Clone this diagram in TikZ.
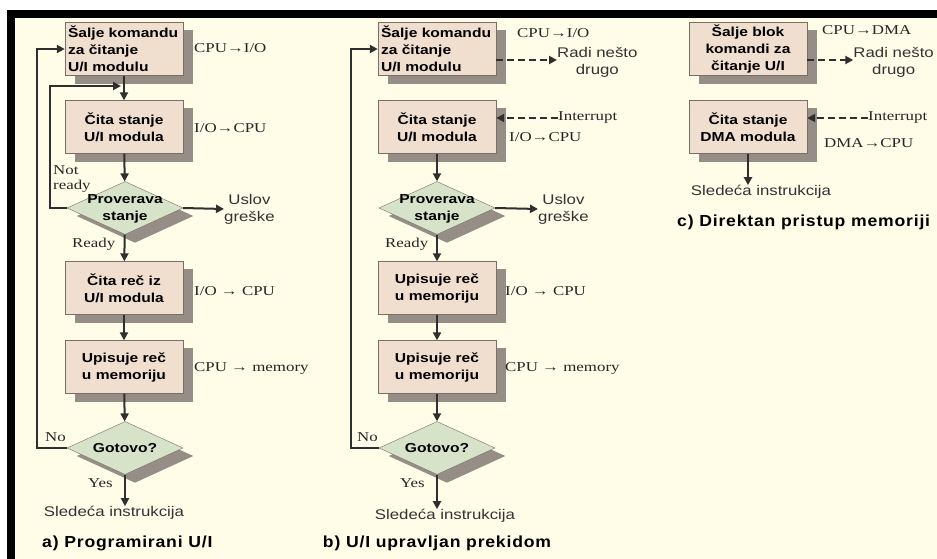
\documentclass[tikz,border=0pt]{standalone}
\usepackage{fontspec}
\setmainfont{Liberation Serif}
\newfontfamily\boxfont[FakeStretch=1.2]{Liberation Sans}
\newfontfamily\lblfont[FakeStretch=1.25]{Liberation Serif}
\newfontfamily\txtfont[FakeStretch=1.2]{Liberation Sans}
\newfontfamily\ttlfont[FakeStretch=1.1,LetterSpace=5]{Liberation Sans}
\usepackage{tikz}
\usetikzlibrary{positioning,shapes.geometric,arrows.meta,backgrounds}
\definecolor{krem}{HTML}{FFFCE8}
\definecolor{kutija}{HTML}{F0DECE}
\definecolor{ivica}{HTML}{7A6E66}
\definecolor{senka}{HTML}{968E86}
\definecolor{romb}{HTML}{D7E3C9}
\definecolor{linija}{HTML}{2F2F2F}

\begin{document}
\begin{tikzpicture}[x=1pt,y=-1pt,
	korak/.style={rectangle,draw=ivica,fill=kutija,minimum width=118pt,minimum height=53pt,
		inner sep=2pt,align=center,font=\boxfont\bfseries\fontsize{13}{17}\selectfont},
	korakl/.style={korak,align=left,text width=112pt},
	odluka/.style={diamond,draw=ivica,fill=romb,minimum width=116pt,minimum height=53pt,inner sep=0pt},
	utekst/.style={font=\boxfont\bfseries\fontsize{13}{17}\selectfont,align=center,inner sep=0pt},
	tok/.style={draw=linija,line width=2pt,-{Triangle[length=8pt,width=8pt]}},
	isprek/.style={tok,dash pattern=on 7pt off 4pt},
	oznaka/.style={font=\lblfont\fontsize{13.5}{15}\selectfont,inner sep=0pt,text=black!85,align=left},
	opis/.style={font=\txtfont\fontsize{14}{17}\selectfont,inner sep=0pt,align=center,text=black!80},
	naslov/.style={font=\ttlfont\bfseries\fontsize{16}{18}\selectfont,inner sep=0pt},
	pomak/.style={shift={(10pt,-8pt)}}]

	% okvir
	\useasboundingbox (0,0) rectangle (937,559);
	\begin{scope}[on background layer]
		\fill[white] (0,0) rectangle (937,559);
		\fill[krem] (15,18) rectangle (937,559);
		\fill[black] (7,10) rectangle (937,18);
		\fill[black] (7,10) rectangle (15,559);
	\end{scope}

	% a) programirani
	\node[korakl] (sa1) at (124,49) {\v{S}alje komandu\\za \v{c}itanje\\U/I modulu};
	\node[korak] (ra1) at (124,127) {\v{C}ita stanje\\U/I modula};
	\node[odluka] (da1) at (125,208) {};
	\node[utekst] (da1t) at (125,209) {Proverava\\stanje};
	\node[korak] (ca1) at (124,288) {\v{C}ita re\v{c} iz\\U/I modula};
	\node[korak] (wa1) at (124,367) {Upisuje re\v{c}\\u memoriju};
	\node[odluka] (ga1) at (125,448) {};
	\node[utekst] (ga1t) at (125,448) {Gotovo?};
	\node[opis, anchor=west] (ea1) at (224,209) {Uslov\\gre\v{s}ke};
	\node[opis] (na1) at (114,513) {Slede\'{c}a instrukcija};
	\node[naslov, anchor=west] (ta1) at (42,543) {a) Programirani U/I};

	\node[oznaka, anchor=west] (oa1) at (194,48) {CPU→I/O};
	\node[oznaka, anchor=west] (oa2) at (194,128) {I/O→CPU};
	\node[oznaka, anchor=west] (oa3) at (194,291) {I/O → CPU};
	\node[oznaka, anchor=west] (oa4) at (194,368) {CPU → memory};
	\node[oznaka, anchor=west] (nra) at (53,179) {Not\\ready};
	\node[oznaka, anchor=west] (rda) at (72,244) {Ready};
	\node[oznaka, anchor=west] (noa) at (45,437) {No};
	\node[oznaka, anchor=west] (ysa) at (88,483) {Yes};

	\coordinate (ja1) at (121,86);
	\draw[tok] (sa1) -- (ra1);
	\draw[tok] (ra1) -- (da1);
	\draw[tok] (da1.west) -- ++(-17,0) |- (ja1);
	\draw[tok] (da1.east) -- (ea1.west);
	\draw[tok] (da1) -- (ca1);
	\draw[tok] (ca1) -- (wa1);
	\draw[tok] (wa1) -- (ga1);
	\draw[tok] (ga1.west) -- ++(-30,0) |- (sa1.west);
	\draw[tok] (ga1.south) -- (ga1.south |- na1.north);

	% b) prekid
	\node[korakl] (sb1) at (437,49) {\v{S}alje komandu\\za \v{c}itanje\\U/I modulu};
	\node[korak] (rb1) at (437,127) {\v{C}ita stanje\\U/I modula};
	\node[odluka] (db1) at (437,208) {};
	\node[utekst] (db1t) at (437,209) {Proverava\\stanje};
	\node[korak] (wb1) at (437,288) {Upisuje re\v{c}\\u memoriju};
	\node[korak] (wb2) at (437,367) {Upisuje re\v{c}\\u memoriju};
	\node[odluka] (gb1) at (437,448) {};
	\node[utekst] (gb1t) at (437,448) {Gotovo?};
	\node[opis, anchor=west] (eb1) at (538,209) {Uslov\\gre\v{s}ke};
	\node[opis, anchor=west] (xb1) at (557,62) {Radi ne\v{s}to\\drugo};
	\node[opis] (nb1) at (445,516) {Slede\'{c}a instrukcija};
	\node[naslov] (tb1) at (437,543) {b) U/I upravljan prekidom};

	\node[oznaka, anchor=west] (ob1) at (517,33) {CPU→I/O};
	\node[oznaka, anchor=west] (ib1) at (558,118) {Interrupt};
	\node[oznaka, anchor=west] (ob2) at (509,137) {I/O→CPU};
	\node[oznaka, anchor=west] (ob3) at (505,291) {I/O → CPU};
	\node[oznaka, anchor=west] (ob4) at (505,368) {CPU → memory};
	\node[oznaka, anchor=west] (rdb) at (385,244) {Ready};
	\node[oznaka, anchor=west] (nob) at (357,437) {No};
	\node[oznaka, anchor=west] (ysb) at (400,483) {Yes};

	\coordinate (pb1) at ([yshift=-11pt]sb1.east);
	\coordinate (qb1) at ([yshift=9pt]rb1.east);
	\draw[isprek] (pb1) -- (pb1 -| xb1.west);
	\draw[isprek] (ib1.west) -- (qb1);
	\draw[tok] (rb1) -- (db1);
	\draw[tok] (db1.east) -- (eb1.west);
	\draw[tok] (db1) -- (wb1);
	\draw[tok] (wb1) -- (wb2);
	\draw[tok] (wb2) -- (gb1);
	\draw[tok] (gb1.west) -- ++(-28,0) |- (sb1.west);
	\draw[tok] (gb1.south) -- (gb1.south |- nb1.north);

	% c) DMA
	\node[korak] (sc1) at (748,49) {\v{S}alje blok\\komandi za\\\v{c}itanje U/I};
	\node[korak] (rc1) at (748,127) {\v{C}ita stanje\\DMA modula};
	\node[opis, anchor=east] (xc1) at (934,62) {Radi ne\v{s}to\\drugo};
	\node[opis] (nc1) at (761,192) {Slede\'{c}a instrukcija};
	\node[naslov, anchor=west] (tc1) at (677,222) {c) Direktan pristup memoriji};

	\node[oznaka, anchor=west] (oc1) at (822,30) {CPU→DMA};
	\node[oznaka, anchor=west] (ic1) at (868,118) {Interrupt};
	\node[oznaka, anchor=west] (oc2) at (824,143) {DMA→CPU};

	\coordinate (pc1) at ([yshift=-11pt]sc1.east);
	\coordinate (qc1) at ([yshift=9pt]rc1.east);
	\draw[isprek] (pc1) -- (pc1 -| xc1.west);
	\draw[isprek] (ic1.west) -- (qc1);
	\draw[tok] (rc1.south) -- (rc1.south |- nc1.north);

	% senke
	\begin{scope}[on background layer]
		\foreach \k in {sa1,ra1,ca1,wa1,sb1,rb1,wb1,wb2,sc1,rc1}
			\fill[senka] ([pomak]\k.north west) rectangle ([pomak]\k.south east);
		\foreach \k in {da1,ga1,db1,gb1}
			\fill[senka] ([pomak]\k.north) -- ([pomak]\k.east) -- ([pomak]\k.south) -- ([pomak]\k.west) -- cycle;
	\end{scope}
\end{tikzpicture}
\end{document}
